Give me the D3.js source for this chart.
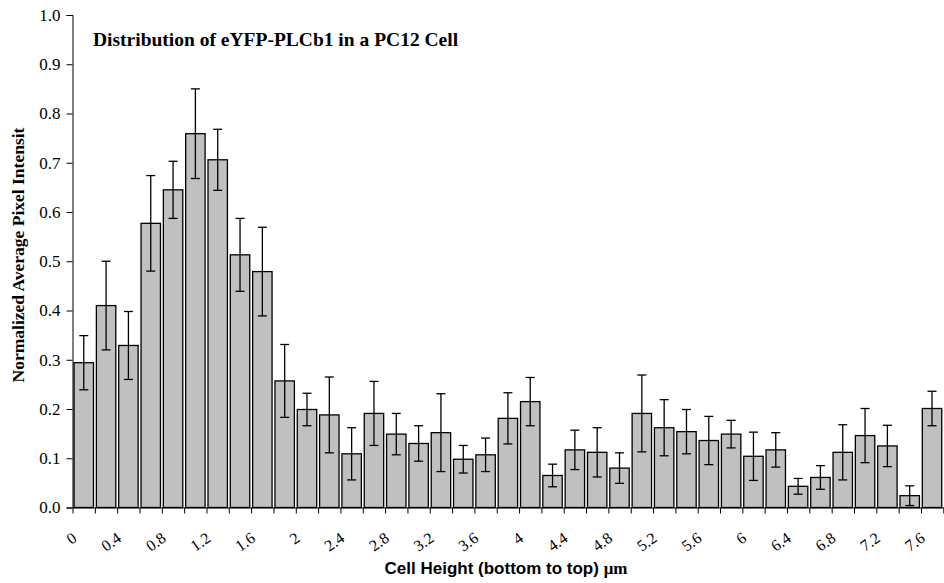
<!DOCTYPE html>
<html>
<head>
<meta charset="utf-8">
<script src="https://cdn.jsdelivr.net/npm/d3@7"></script>
<style>
  body { margin: 0; background: #fff; }
  svg { display: block; }
  .tick text { font-family: "Liberation Serif", "Times New Roman", serif; fill: #000; }
</style>
</head>
<body>
<div id="chart"></div>
<script>
// cell height (µm), one bar each
const heights = ["0","0.2","0.4","0.6","0.8","1","1.2","1.4","1.6","1.8","2","2.2","2.4","2.6","2.8","3","3.2","3.4","3.6","3.8",
  "4","4.2","4.4","4.6","4.8","5","5.2","5.4","5.6","5.8","6","6.2","6.4","6.6","6.8","7","7.2","7.4","7.6"];
const tickLabels = ["0","0.4","0.8","1.2","1.6","2","2.4","2.8","3.2","3.6","4","4.4","4.8","5.2","5.6","6","6.4","6.8","7.2","7.6"];
const intensity = [0.294,0.410,0.329,0.577,0.645,0.759,0.706,0.513,0.479,0.257,0.199,0.188,0.109,0.191,0.149,0.130,0.152,0.098,0.107,0.181,
  0.215,0.065,0.117,0.112,0.080,0.191,0.162,0.154,0.136,0.149,0.104,0.117,0.043,0.061,0.112,0.146,0.125,0.024,0.201];
const errors = [0.055,0.090,0.069,0.097,0.058,0.091,0.062,0.074,0.090,0.074,0.033,0.077,0.053,0.065,0.042,0.036,0.079,0.028,0.034,0.052,
  0.049,0.023,0.040,0.050,0.031,0.078,0.057,0.045,0.049,0.028,0.049,0.035,0.016,0.024,0.056,0.055,0.042,0.020,0.035];
const yTicks = [0,0.1,0.2,0.3,0.4,0.5,0.6,0.7,0.8,0.9,1.0];

const W = 944, H = 583;
const plotLeft = 72.5, plotRight = 943.3, plotTop = 15, plotBottom = 507.5;

const svg = d3.select("#chart").append("svg")
  .attr("width", W)
  .attr("height", H);

const data = heights.map((h, i) => ({ h: h, v: intensity[i], e: errors[i] }));

const x = d3.scaleBand()
  .domain(heights)
  .range([plotLeft, plotRight])
  .paddingInner(0.13)
  .paddingOuter(0.07);

// category boundaries for the tick marks
const xEdge = d3.scaleLinear()
  .domain([0, heights.length])
  .range([plotLeft, plotRight]);

const y = d3.scaleLinear()
  .domain([0, 1])
  .range([plotBottom, plotTop]);

// bars
svg.append("g")
  .selectAll("rect")
  .data(data)
  .join("rect")
  .attr("x", d => x(d.h))
  .attr("y", d => y(d.v))
  .attr("width", x.bandwidth())
  .attr("height", d => y(0) - y(d.v))
  .attr("fill", "#c0c0c0")
  .attr("stroke", "#000")
  .attr("stroke-width", 1.3);

// error bars
const err = svg.append("g")
  .attr("stroke", "#000")
  .attr("stroke-width", 1.3);

data.forEach(d => {
  const cx = x(d.h) + x.bandwidth() / 2;
  err.append("line")
    .attr("x1", cx).attr("x2", cx)
    .attr("y1", y(d.v + d.e)).attr("y2", y(d.v - d.e));
  [d.v + d.e, d.v - d.e].forEach(v => {
    err.append("line")
      .attr("x1", cx - 4.5).attr("x2", cx + 4.5)
      .attr("y1", y(v)).attr("y2", y(v));
  });
});

// y axis
const yAxis = svg.append("g")
  .attr("transform", `translate(${plotLeft},0)`)
  .call(d3.axisLeft(y).tickValues(yTicks).tickFormat(d3.format(".1f")).tickSize(6).tickPadding(6));
yAxis.select(".domain").attr("stroke", "#000");
yAxis.selectAll(".tick text").attr("font-size", 17);

// x axis: ticks between categories
const xAxis = svg.append("g")
  .attr("transform", `translate(0,${plotBottom})`)
  .call(d3.axisBottom(xEdge).tickValues(d3.range(0, heights.length + 1)).tickFormat("").tickSize(6).tickSizeOuter(0));
xAxis.select(".domain").attr("stroke", "#000");

// rotated category labels
svg.append("g")
  .selectAll("text")
  .data(tickLabels)
  .join("text")
  .attr("transform", d => `translate(${x(d) + x.bandwidth() / 2 - 6},${plotBottom + 33}) rotate(-35)`)
  .attr("text-anchor", "end")
  .attr("font-family", "'Liberation Serif', 'Times New Roman', serif")
  .attr("font-size", 16)
  .text(d => d);

// titles
svg.append("text")
  .attr("x", 93)
  .attr("y", 46)
  .attr("font-family", "'Liberation Serif', 'Times New Roman', serif")
  .attr("font-weight", "bold")
  .attr("font-size", 19.5)
  .text("Distribution of eYFP-PLCb1 in a PC12 Cell");

svg.append("text")
  .attr("transform", `translate(24,255) rotate(-90)`)
  .attr("text-anchor", "middle")
  .attr("font-family", "'Liberation Serif', 'Times New Roman', serif")
  .attr("font-weight", "bold")
  .attr("font-size", 17.5)
  .text("Normalized Average Pixel Intensit");

const xt = svg.append("text")
  .attr("x", 506)
  .attr("y", 574)
  .attr("text-anchor", "middle")
  .attr("font-family", "'Liberation Sans', Arial, sans-serif")
  .attr("font-weight", "bold")
  .attr("font-size", 17);
xt.append("tspan").text("Cell Height (bottom to top) ");
xt.append("tspan").attr("font-family", "'Liberation Serif', serif").text("\u03bcm");
</script>
</body>
</html>
